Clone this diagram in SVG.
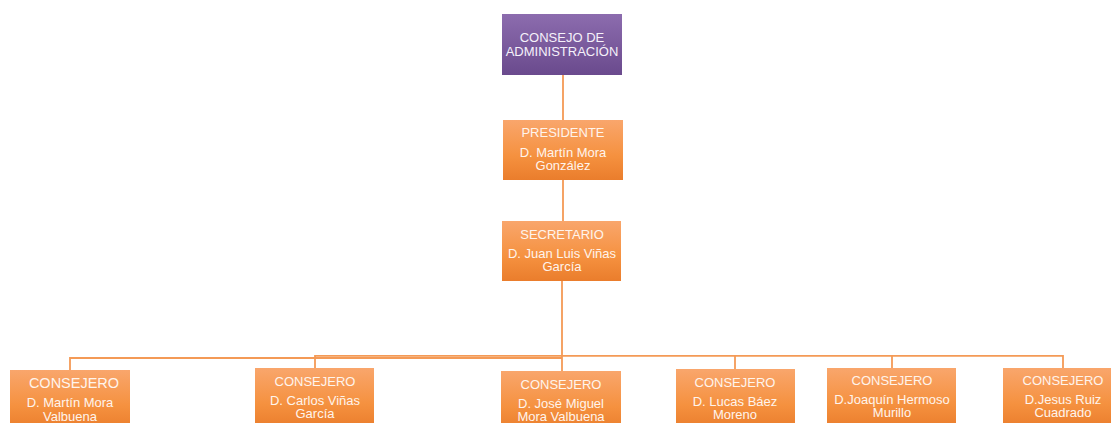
<svg xmlns="http://www.w3.org/2000/svg" width="1111" height="423" viewBox="0 0 1111 423">
<defs>
<linearGradient id="gOr" x1="0" y1="0" x2="0" y2="1">
<stop offset="0" stop-color="#f9a66c"/>
<stop offset="0.6" stop-color="#f5913f"/>
<stop offset="1" stop-color="#ea7d2c"/>
</linearGradient>
<linearGradient id="gPu" x1="0" y1="0" x2="0" y2="1">
<stop offset="0" stop-color="#8c6cae"/>
<stop offset="1" stop-color="#6a4a8d"/>
</linearGradient>
<style>
.or{fill:url(#gOr);}
.pu{fill:url(#gPu);}
text{font-family:"Liberation Sans",Arial,sans-serif;font-size:13px;fill:#fff4ec;text-anchor:middle;}
.pt{fill:#f5f1fa;}
.ln{fill:none;stroke:#f49a56;stroke-width:1.8;}
</style>
</defs>
<g id="connectors">
<path class="ln" d="M563 75V120M563 180V221M562 281V357"/>
<path class="ln" d="M70 370V358H562"/>
<path class="ln" d="M315 368V355.8H1063V368"/>
<path class="ln" d="M562 357V371"/>
<path class="ln" d="M735 355.8V369"/>
<path class="ln" d="M892 355.8V368"/>
</g>
<g id="consejo">
<rect class="pu" x="502" y="14" width="120" height="61"/>
<text class="pt" x="562" y="42">CONSEJO DE</text>
<text class="pt" x="562" y="56">ADMINISTRACIÓN</text>
</g>
<g id="presidente">
<rect class="or" x="503" y="120" width="120" height="60"/>
<text x="563" y="137">PRESIDENTE</text>
<text x="563" y="157">D. Martín Mora</text>
<text x="563" y="170">González</text>
</g>
<g id="secretario">
<rect class="or" x="502" y="221" width="119" height="60"/>
<text x="562" y="239">SECRETARIO</text>
<text x="562" y="258">D. Juan Luis Viñas</text>
<text x="562" y="271">García</text>
</g>
<g id="consejero1">
<rect class="or" x="10" y="370" width="120" height="60"/>
<text x="74" y="388" style="font-size:14.5px">CONSEJERO</text>
<text x="70" y="407">D. Martín Mora</text>
<text x="70" y="421">Valbuena</text>
</g>
<g id="consejero2">
<rect class="or" x="255" y="368" width="119" height="60"/>
<text x="315" y="386">CONSEJERO</text>
<text x="315" y="405">D. Carlos Viñas</text>
<text x="315" y="418">García</text>
</g>
<g id="consejero3">
<rect class="or" x="501" y="371" width="120" height="60"/>
<text x="561" y="389">CONSEJERO</text>
<text x="561" y="408">D. José Miguel</text>
<text x="561" y="421">Mora Valbuena</text>
</g>
<g id="consejero4">
<rect class="or" x="676" y="369" width="119" height="60"/>
<text x="735" y="387">CONSEJERO</text>
<text x="735" y="406">D. Lucas Báez</text>
<text x="735" y="419">Moreno</text>
</g>
<g id="consejero5">
<rect class="or" x="827" y="368" width="129" height="60"/>
<text x="892" y="385">CONSEJERO</text>
<text x="892" y="404">D.Joaquín Hermoso</text>
<text x="892" y="417">Murillo</text>
</g>
<g id="consejero6">
<rect class="or" x="1003" y="368" width="120" height="60"/>
<text x="1063" y="385">CONSEJERO</text>
<text x="1063" y="404">D.Jesus Ruiz</text>
<text x="1063" y="417">Cuadrado</text>
</g>
</svg>
